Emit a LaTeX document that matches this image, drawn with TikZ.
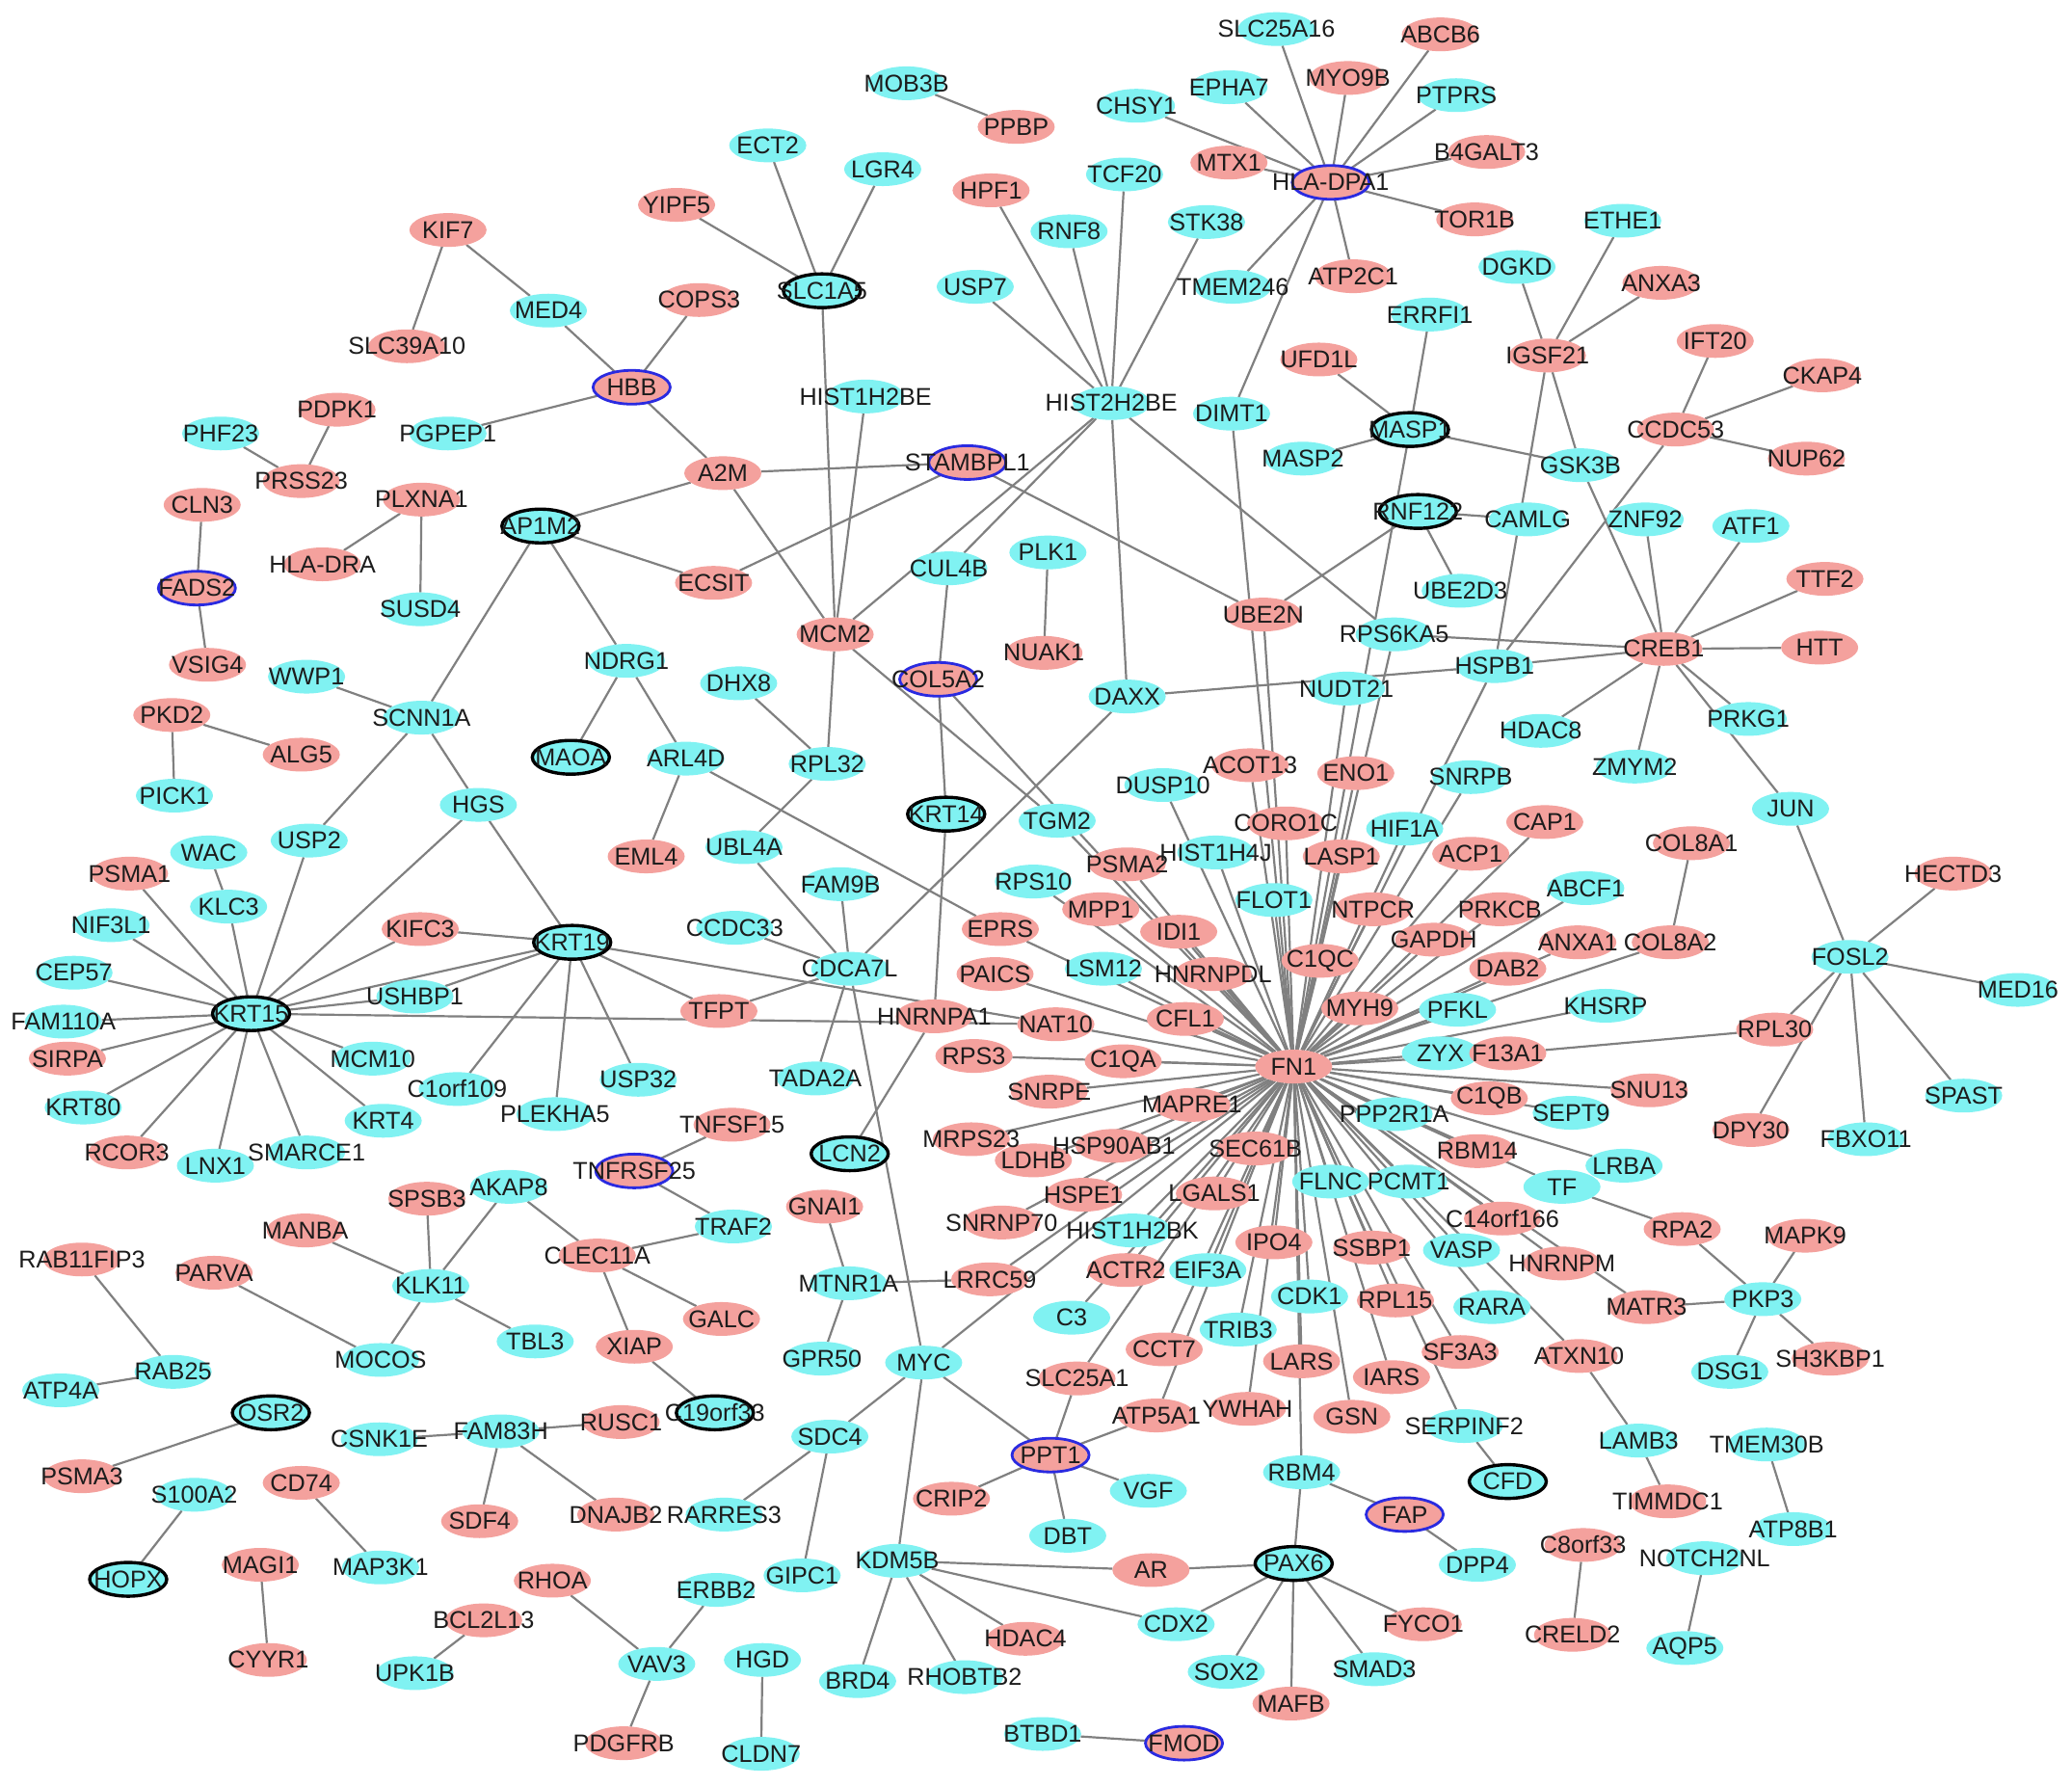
\documentclass[tikz,border=0pt]{standalone}
\usepackage{fontspec}
\setmainfont{Liberation Sans}
\usetikzlibrary{shapes.geometric}
\pgfdeclarelayer{back}
\pgfdeclarelayer{bg}
\pgfsetlayers{back,bg,main}
\definecolor{pkc}{HTML}{F4A19D}
\definecolor{cyc}{HTML}{80F2F2}
\definecolor{edc}{HTML}{808080}
\definecolor{txc}{HTML}{1C1C1C}
\definecolor{blc}{HTML}{2A2AE0}
\tikzset{
 gene/.style={ellipse, minimum width=40pt, minimum height=17.5pt, inner sep=0pt, outer sep=0pt},
 pk/.style={fill=pkc},
 cy/.style={fill=cyc},
 pkb/.style={fill=pkc, draw=blc, line width=1.4pt},
 cyk/.style={fill=cyc, draw=black, line width=1.7pt},
 lbl/.style={inner sep=0pt, text=txc, font=\fontsize{12.6pt}{12.6pt}\selectfont},
 edge/.style={draw=edc, line width=1.1pt},
}
\newcommand\gn[4]{}
\newcommand\nodelist{%
\gn{SLC25A16}{966}{22}{cy}
\gn{ABCB6}{1090}{26}{pk}
\gn{MYO9B}{1020}{59}{pk}
\gn{EPHA7}{930}{66}{cy}
\gn{PTPRS}{1102}{72}{cy}
\gn{CHSY1}{860}{80}{cy}
\gn{MOB3B}{686}{63}{cy}
\gn{PPBP}{769}{96}{pk}
\gn{ECT2}{581}{110}{cy}
\gn{LGR4}{668}{128}{cy}
\gn{B4GALT3}{1125}{115}{pk}
\gn{MTX1}{930}{123}{pk}
\gn{HLA-DPA1}{1007}{138}{pkb}
\gn{TOR1B}{1116}{166}{pk}
\gn{HPF1}{750}{144}{pk}
\gn{TCF20}{851}{132}{cy}
\gn{RNF8}{809}{175}{cy}
\gn{STK38}{913}{168}{cy}
\gn{YIPF5}{512}{155}{pk}
\gn{KIF7}{339}{174}{pk}
\gn{ETHE1}{1228}{167}{cy}
\gn{SLC1A5}{622}{220}{cyk}
\gn{USP7}{738}{217}{cy}
\gn{TMEM246}{933}{217}{cy}
\gn{ATP2C1}{1024}{209}{pk}
\gn{DGKD}{1148}{202}{cy}
\gn{ANXA3}{1257}{214}{pk}
\gn{MED4}{415}{235}{cy}
\gn{COPS3}{529}{227}{pk}
\gn{ERRFI1}{1082}{238}{cy}
\gn{SLC39A10}{308}{262}{pk}
\gn{UFD1L}{998}{272}{pk}
\gn{IGSF21}{1171}{269}{pk}
\gn{IFT20}{1298}{258}{pk}
\gn{CKAP4}{1379}{284}{pk}
\gn{HBB}{478}{293}{pkb}
\gn{PDPK1}{255}{310}{pk}
\gn{PHF23}{167}{328}{cy}
\gn{PGPEP1}{339}{328}{cy}
\gn{HIST1H2BE}{655}{300}{cy}
\gn{HIST2H2BE}{841}{305}{cy}
\gn{DIMT1}{932}{313}{cy}
\gn{MASP1}{1067}{325}{cyk}
\gn{CCDC53}{1268}{325}{pk}
\gn{NUP62}{1367}{347}{pk}
\gn{GSK3B}{1196}{352}{cy}
\gn{MASP2}{986}{347}{cy}
\gn{PRSS23}{228}{364}{pk}
\gn{A2M}{547}{358}{pk}
\gn{STAMBPL1}{732}{350}{pkb}
\gn{CLN3}{153}{382}{pk}
\gn{PLXNA1}{319}{378}{pk}
\gn{AP1M2}{409}{398}{cyk}
\gn{RNF122}{1073}{387}{cyk}
\gn{CAMLG}{1156}{393}{cy}
\gn{ZNF92}{1245}{393}{cy}
\gn{ATF1}{1325}{398}{cy}
\gn{HLA-DRA}{244}{427}{pk}
\gn{ECSIT}{540}{441}{pk}
\gn{CUL4B}{718}{430}{cy}
\gn{PLK1}{793}{418}{cy}
\gn{FADS2}{149}{445}{pkb}
\gn{SUSD4}{318}{461}{cy}
\gn{UBE2D3}{1105}{447}{cy}
\gn{TTF2}{1381}{438}{pk}
\gn{UBE2N}{956}{465}{pk}
\gn{MCM2}{632}{480}{pk}
\gn{RPS6KA5}{1055}{480}{cy}
\gn{CREB1}{1259}{491}{pk}
\gn{HTT}{1377}{490}{pk}
\gn{NUAK1}{790}{494}{pk}
\gn{VSIG4}{157}{503}{pk}
\gn{NDRG1}{474}{500}{cy}
\gn{HSPB1}{1131}{504}{cy}
\gn{WWP1}{232}{512}{cy}
\gn{COL5A2}{710}{514}{pkb}
\gn{DAXX}{853}{527}{cy}
\gn{NUDT21}{1019}{521}{cy}
\gn{DHX8}{559}{517}{cy}
\gn{PKD2}{130}{541}{pk}
\gn{SCNN1A}{319}{543}{cy}
\gn{HDAC8}{1166}{553}{cy}
\gn{PRKG1}{1323}{544}{cy}
\gn{ALG5}{228}{571}{pk}
\gn{MAOA}{432}{573}{cyk}
\gn{ARL4D}{519}{574}{cy}
\gn{RPL32}{626}{578}{cy}
\gn{ACOT13}{946}{579}{pk}
\gn{ENO1}{1026}{585}{pk}
\gn{SNRPB}{1113}{588}{cy}
\gn{ZMYM2}{1237}{580}{cy}
\gn{DUSP10}{880}{594}{cy}
\gn{PICK1}{132}{602}{cy}
\gn{HGS}{362}{609}{cy}
\gn{JUN}{1355}{612}{cy}
\gn{KRT14}{716}{616}{cyk}
\gn{TGM2}{800}{621}{cy}
\gn{CORO1C}{973}{623}{pk}
\gn{CAP1}{1169}{622}{pk}
\gn{HIF1A}{1063}{627}{cy}
\gn{COL8A1}{1280}{638}{pk}
\gn{WAC}{158}{645}{cy}
\gn{USP2}{234}{636}{cy}
\gn{UBL4A}{563}{641}{cy}
\gn{EML4}{489}{648}{pk}
\gn{PSMA2}{853}{654}{pk}
\gn{HIST1H4J}{920}{645}{cy}
\gn{LASP1}{1015}{648}{pk}
\gn{ACP1}{1113}{646}{pk}
\gn{PSMA1}{98}{661}{pk}
\gn{HECTD3}{1478}{661}{pk}
\gn{FAM9B}{636}{669}{cy}
\gn{RPS10}{782}{667}{cy}
\gn{ABCF1}{1200}{672}{cy}
\gn{KLC3}{173}{686}{cy}
\gn{NIF3L1}{84}{700}{cy}
\gn{MPP1}{833}{688}{pk}
\gn{NTPCR}{1039}{688}{pk}
\gn{PRKCB}{1135}{688}{pk}
\gn{FLOT1}{964}{681}{cy}
\gn{CCDC33}{556}{702}{cy}
\gn{KIFC3}{318}{703}{pk}
\gn{EPRS}{757}{703}{pk}
\gn{IDI1}{892}{705}{pk}
\gn{KRT19}{433}{713}{cyk}
\gn{GAPDH}{1085}{711}{pk}
\gn{ANXA1}{1194}{713}{pk}
\gn{COL8A2}{1264}{713}{pk}
\gn{FOSL2}{1400}{724}{cy}
\gn{LSM12}{835}{733}{cy}
\gn{C1QC}{999}{727}{pk}
\gn{CDCA7L}{643}{733}{cy}
\gn{CEP57}{56}{736}{cy}
\gn{PAICS}{753}{737}{pk}
\gn{HNRNPDL}{918}{737}{pk}
\gn{DAB2}{1141}{733}{pk}
\gn{USHBP1}{314}{754}{cy}
\gn{MED16}{1527}{749}{cy}
\gn{MYH9}{1029}{763}{pk}
\gn{PFKL}{1103}{764}{cy}
\gn{KHSRP}{1215}{761}{cy}
\gn{TFPT}{544}{765}{pk}
\gn{KRT15}{190}{767}{cyk}
\gn{HNRNPA1}{707}{769}{pk}
\gn{FAM110A}{48}{773}{cy}
\gn{NAT10}{799}{775}{pk}
\gn{CFL1}{897}{771}{pk}
\gn{RPL30}{1343}{779}{pk}
\gn{SIRPA}{51}{801}{pk}
\gn{RPS3}{737}{799}{pk}
\gn{C1QA}{850}{803}{pk}
\gn{FN1}{979}{807}{pk}
\gn{ZYX}{1090}{797}{cy}
\gn{F13A1}{1141}{797}{pk}
\gn{MCM10}{282}{801}{cy}
\gn{SPAST}{1486}{829}{cy}
\gn{C1orf109}{346}{824}{cy}
\gn{KRT80}{63}{838}{cy}
\gn{TADA2A}{617}{816}{cy}
\gn{USP32}{483}{817}{cy}
\gn{SNRPE}{794}{826}{pk}
\gn{C1QB}{1127}{831}{pk}
\gn{SEPT9}{1189}{842}{cy}
\gn{SNU13}{1248}{825}{pk}
\gn{MAPRE1}{902}{836}{pk}
\gn{PPP2R1A}{1055}{843}{cy}
\gn{PLEKHA5}{420}{843}{cy}
\gn{KRT4}{290}{848}{cy}
\gn{DPY30}{1325}{855}{pk}
\gn{FBXO11}{1412}{862}{cy}
\gn{TNFSF15}{554}{851}{pk}
\gn{RCOR3}{96}{872}{pk}
\gn{LNX1}{163}{882}{cy}
\gn{SMARCE1}{232}{872}{cy}
\gn{MRPS23}{735}{862}{pk}
\gn{HSP90AB1}{843}{867}{pk}
\gn{SEC61B}{950}{869}{pk}
\gn{LCN2}{643}{873}{cyk}
\gn{LDHB}{782}{878}{pk}
\gn{RBM14}{1118}{871}{pk}
\gn{TF}{1182}{898}{cy}
\gn{LRBA}{1229}{882}{cy}
\gn{TNFRSF25}{480}{886}{pkb}
\gn{FLNC}{1007}{894}{cy}
\gn{PCMT1}{1066}{894}{cy}
\gn{AKAP8}{385}{898}{cy}
\gn{SPSB3}{323}{907}{pk}
\gn{HSPE1}{820}{904}{pk}
\gn{LGALS1}{919}{903}{pk}
\gn{C14orf166}{1137}{922}{pk}
\gn{TRAF2}{555}{928}{cy}
\gn{MANBA}{231}{931}{pk}
\gn{RPA2}{1273}{930}{pk}
\gn{MAPK9}{1366}{935}{pk}
\gn{GNAI1}{624}{913}{pk}
\gn{SNRNP70}{758}{925}{pk}
\gn{HIST1H2BK}{857}{931}{cy}
\gn{IPO4}{964}{940}{pk}
\gn{SSBP1}{1038}{944}{pk}
\gn{VASP}{1106}{946}{cy}
\gn{CLEC11A}{452}{950}{pk}
\gn{RAB11FIP3}{62}{953}{pk}
\gn{HNRNPM}{1182}{956}{pk}
\gn{PARVA}{162}{963}{pk}
\gn{ACTR2}{852}{961}{pk}
\gn{EIF3A}{914}{961}{cy}
\gn{KLK11}{326}{973}{cy}
\gn{MTNR1A}{642}{971}{cy}
\gn{LRRC59}{749}{968}{pk}
\gn{CDK1}{991}{981}{cy}
\gn{RPL15}{1056}{984}{pk}
\gn{RARA}{1129}{989}{cy}
\gn{PKP3}{1334}{983}{cy}
\gn{MATR3}{1246}{989}{pk}
\gn{GALC}{546}{998}{pk}
\gn{C3}{811}{997}{cy}
\gn{TRIB3}{937}{1006}{cy}
\gn{SF3A3}{1105}{1023}{pk}
\gn{ATXN10}{1195}{1026}{pk}
\gn{TBL3}{405}{1015}{cy}
\gn{XIAP}{480}{1019}{pk}
\gn{MOCOS}{288}{1029}{cy}
\gn{GPR50}{622}{1028}{cy}
\gn{CCT7}{881}{1021}{pk}
\gn{SH3KBP1}{1385}{1028}{pk}
\gn{RAB25}{131}{1038}{cy}
\gn{MYC}{699}{1031}{cy}
\gn{LARS}{985}{1030}{pk}
\gn{IARS}{1053}{1042}{pk}
\gn{DSG1}{1309}{1038}{cy}
\gn{ATP4A}{46}{1052}{cy}
\gn{SLC25A1}{815}{1043}{pk}
\gn{C19orf33}{541}{1069}{cyk}
\gn{OSR2}{205}{1069}{cyk}
\gn{YWHAH}{944}{1066}{pk}
\gn{GSN}{1023}{1072}{pk}
\gn{RUSC1}{470}{1076}{pk}
\gn{FAM83H}{379}{1083}{cy}
\gn{CSNK1E}{287}{1089}{cy}
\gn{SDC4}{628}{1087}{cy}
\gn{ATP5A1}{875}{1071}{pk}
\gn{SERPINF2}{1108}{1079}{cy}
\gn{LAMB3}{1240}{1090}{cy}
\gn{TMEM30B}{1337}{1093}{cy}
\gn{PPT1}{795}{1101}{pkb}
\gn{PSMA3}{62}{1117}{pk}
\gn{CFD}{1141}{1121}{cyk}
\gn{RBM4}{985}{1114}{cy}
\gn{S100A2}{147}{1131}{cy}
\gn{CD74}{228}{1122}{pk}
\gn{SDF4}{363}{1151}{pk}
\gn{DNAJB2}{466}{1146}{pk}
\gn{RARRES3}{548}{1146}{cy}
\gn{VGF}{869}{1128}{cy}
\gn{TIMMDC1}{1262}{1136}{pk}
\gn{FAP}{1063}{1146}{pkb}
\gn{CRIP2}{720}{1134}{pk}
\gn{DBT}{808}{1162}{cy}
\gn{ATP8B1}{1357}{1157}{cy}
\gn{MAP3K1}{288}{1186}{cy}
\gn{MAGI1}{197}{1184}{pk}
\gn{HOPX}{97}{1195}{cyk}
\gn{C8orf33}{1198}{1169}{pk}
\gn{NOTCH2NL}{1290}{1179}{cy}
\gn{KDM5B}{679}{1181}{cy}
\gn{AR}{871}{1188}{pk}
\gn{PAX6}{979}{1183}{cyk}
\gn{DPP4}{1118}{1184}{cy}
\gn{GIPC1}{607}{1192}{cy}
\gn{RHOA}{418}{1196}{pk}
\gn{ERBB2}{542}{1203}{cy}
\gn{BCL2L13}{366}{1226}{pk}
\gn{CDX2}{890}{1229}{cy}
\gn{FYCO1}{1077}{1229}{pk}
\gn{HDAC4}{776}{1240}{pk}
\gn{CRELD2}{1190}{1237}{pk}
\gn{AQP5}{1275}{1247}{cy}
\gn{CYYR1}{203}{1256}{pk}
\gn{VAV3}{497}{1259}{cy}
\gn{HGD}{577}{1256}{cy}
\gn{UPK1B}{314}{1266}{cy}
\gn{SOX2}{928}{1265}{cy}
\gn{SMAD3}{1040}{1263}{cy}
\gn{BRD4}{649}{1272}{cy}
\gn{RHOBTB2}{730}{1269}{cy}
\gn{MAFB}{977}{1289}{pk}
\gn{BTBD1}{789}{1312}{cy}
\gn{FMOD}{896}{1319}{pkb}
\gn{PDGFRB}{472}{1319}{pk}
\gn{CLDN7}{576}{1327}{cy}
}
\begin{document}
\begin{tikzpicture}[x=0.6856pt,y=-0.6856pt]
\begin{pgfonlayer}{back}
\fill[white] (0,0) rectangle (1568,1351);
\end{pgfonlayer}
\useasboundingbox (0,0) rectangle (1568,1351);
\renewcommand\gn[4]{\node[gene,#4] (#1) at (#2,#3) {};}
\nodelist
\begin{pgfonlayer}{bg}
\foreach \a/\b in {HLA-DPA1/SLC25A16, HLA-DPA1/ABCB6, HLA-DPA1/MYO9B, HLA-DPA1/EPHA7, HLA-DPA1/PTPRS, HLA-DPA1/CHSY1, HLA-DPA1/B4GALT3, HLA-DPA1/MTX1, HLA-DPA1/TOR1B, HLA-DPA1/ATP2C1, HLA-DPA1/TMEM246, HLA-DPA1/DIMT1,
MOB3B/PPBP,
SLC1A5/ECT2, SLC1A5/LGR4, SLC1A5/YIPF5, SLC1A5/MCM2,
HIST2H2BE/HPF1, HIST2H2BE/RNF8, HIST2H2BE/TCF20, HIST2H2BE/STK38, HIST2H2BE/USP7, HIST2H2BE/DAXX, HIST2H2BE/CUL4B, HIST2H2BE/MCM2, HIST2H2BE/RPS6KA5,
HIST1H2BE/MCM2,
KIF7/SLC39A10, KIF7/MED4, MED4/HBB, COPS3/HBB, HBB/PGPEP1, HBB/A2M,
A2M/STAMBPL1, A2M/AP1M2, A2M/MCM2,
STAMBPL1/ECSIT, STAMBPL1/UBE2N,
AP1M2/ECSIT, AP1M2/NDRG1, AP1M2/SCNN1A,
PDPK1/PRSS23, PHF23/PRSS23, PLXNA1/HLA-DRA, PLXNA1/SUSD4, CLN3/FADS2, FADS2/VSIG4, PKD2/ALG5, PKD2/PICK1,
WWP1/SCNN1A, SCNN1A/USP2, SCNN1A/HGS, USP2/KRT15, HGS/KRT15, HGS/KRT19,
KRT15/KLC3, KRT15/PSMA1, KRT15/NIF3L1, KRT15/CEP57, KRT15/FAM110A, KRT15/SIRPA, KRT15/KRT80, KRT15/RCOR3, KRT15/LNX1, KRT15/SMARCE1, KRT15/KRT4, KRT15/MCM10, KRT15/USHBP1, KRT15/KIFC3, KRT15/KRT19, KRT15/NAT10,
WAC/KLC3,
KIFC3/KRT19, USHBP1/KRT19, C1orf109/KRT19, USP32/KRT19, PLEKHA5/KRT19, KRT19/TFPT, KRT19/NAT10,
TFPT/CDCA7L,
NDRG1/MAOA, NDRG1/ARL4D, ARL4D/EML4, ARL4D/EPRS,
DHX8/RPL32, RPL32/MCM2, RPL32/UBL4A, UBL4A/CDCA7L, FAM9B/CDCA7L, CCDC33/CDCA7L, CDCA7L/TADA2A, CDCA7L/MYC, CDCA7L/DAXX,
CUL4B/COL5A2, COL5A2/KRT14, COL5A2/FN1, KRT14/HNRNPA1, HNRNPA1/LCN2, MCM2/TGM2,
PLK1/NUAK1, DAXX/HSPB1,
IGSF21/DGKD, IGSF21/ETHE1, IGSF21/ANXA3, IGSF21/GSK3B, IGSF21/HSPB1,
UFD1L/MASP1, ERRFI1/MASP1, MASP1/MASP2, MASP1/GSK3B, MASP1/FN1,
RNF122/CAMLG, RNF122/UBE2D3, RNF122/UBE2N,
IFT20/CCDC53, CKAP4/CCDC53, NUP62/CCDC53, CCDC53/HSPB1,
CREB1/GSK3B, CREB1/ZNF92, CREB1/ATF1, CREB1/TTF2, CREB1/HTT, CREB1/PRKG1, CREB1/ZMYM2, CREB1/HDAC8, CREB1/JUN, CREB1/HSPB1, CREB1/RPS6KA5,
JUN/FOSL2, FOSL2/HECTD3, FOSL2/MED16, FOSL2/SPAST, FOSL2/FBXO11, FOSL2/DPY30, FOSL2/RPL30,
F13A1/RPL30, COL8A1/COL8A2,
TF/RPA2, RPA2/PKP3, MAPK9/PKP3, MATR3/PKP3, PKP3/DSG1, PKP3/SH3KBP1,
ATXN10/LAMB3, LAMB3/TIMMDC1, TMEM30B/ATP8B1, C8orf33/CRELD2, NOTCH2NL/AQP5,
SERPINF2/CFD,
RBM4/FAP, FAP/DPP4, RBM4/PAX6,
PAX6/AR, PAX6/CDX2, PAX6/SOX2, PAX6/MAFB, PAX6/SMAD3, PAX6/FYCO1,
KDM5B/AR, KDM5B/CDX2, KDM5B/HDAC4, KDM5B/RHOBTB2, KDM5B/BRD4, MYC/KDM5B,
MYC/SDC4, SDC4/RARRES3, SDC4/GIPC1, MYC/PPT1, MYC/FN1,
PPT1/CRIP2, PPT1/DBT, PPT1/VGF, PPT1/ATP5A1, PPT1/SLC25A1,
BTBD1/FMOD,
RHOA/VAV3, ERBB2/VAV3, VAV3/PDGFRB, HGD/CLDN7,
BCL2L13/UPK1B, MAGI1/CYYR1, CD74/MAP3K1, S100A2/HOPX, OSR2/PSMA3,
CSNK1E/FAM83H, FAM83H/SDF4, FAM83H/RUSC1, FAM83H/DNAJB2,
XIAP/C19orf33, CLEC11A/XIAP, CLEC11A/GALC, CLEC11A/TRAF2, AKAP8/CLEC11A, AKAP8/KLK11,
TNFSF15/TNFRSF25, TNFRSF25/TRAF2,
GNAI1/MTNR1A, MTNR1A/LRRC59, MTNR1A/GPR50,
SPSB3/KLK11, MANBA/KLK11, KLK11/TBL3, KLK11/MOCOS, PARVA/MOCOS,
RAB11FIP3/RAB25, ATP4A/RAB25}
  \draw[edge] (\a) -- (\b);
\foreach \b in {TGM2, DUSP10, ACOT13, CORO1C, PSMA2, HIST1H4J, LASP1, ENO1, HIF1A, SNRPB, CAP1, ACP1, MPP1, RPS10, IDI1, FLOT1, NTPCR, PRKCB, ABCF1, GAPDH, ANXA1, COL8A2, C1QC, LSM12, HNRNPDL, EPRS, PAICS, DAB2, MYH9, PFKL, KHSRP, CFL1, NAT10, RPS3, C1QA, ZYX, F13A1, SNRPE, MAPRE1, C1QB, SEPT9, SNU13, PPP2R1A, RBM14, TF, LRBA, MRPS23, HSP90AB1, LDHB, SEC61B, HSPE1, LGALS1, FLNC, PCMT1, C14orf166, SNRNP70, HIST1H2BK, IPO4, SSBP1, VASP, HNRNPM, MATR3, ATXN10, RARA, ACTR2, EIF3A, LRRC59, CDK1, RPL15, C3, TRIB3, CCT7, LARS, IARS, SF3A3, SLC25A1, YWHAH, GSN, ATP5A1, SERPINF2, RBM4, UBE2N, DIMT1, NUDT21, HSPB1, RPS6KA5}
  \draw[edge] (FN1) -- (\b);
\end{pgfonlayer}
\renewcommand\gn[4]{\node[lbl] (t-#1) at (#1) {#1};}
\nodelist
\end{tikzpicture}
\end{document}
